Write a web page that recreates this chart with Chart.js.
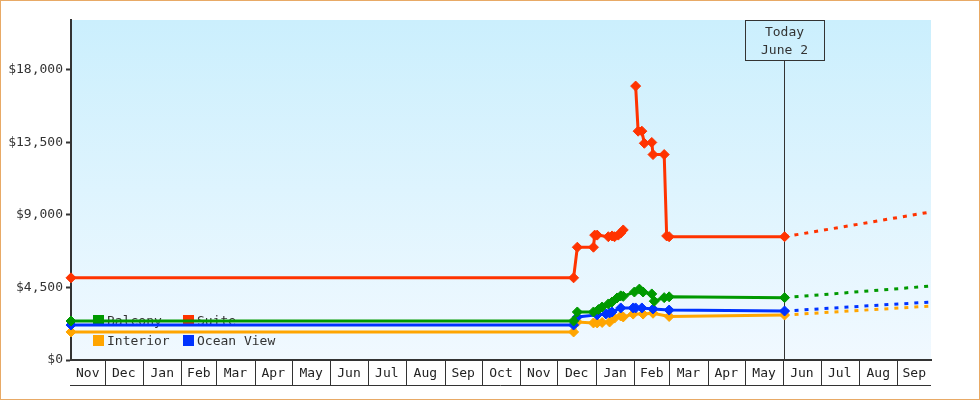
<!DOCTYPE html>
<html>
<head>
<meta charset="utf-8">
<script src="https://cdn.jsdelivr.net/npm/chart.js@4/dist/chart.umd.min.js"></script>
<style>
  html, body { margin: 0; padding: 0; background: #fff; }
  canvas { display: block; }
</style>
</head>
<body>
<canvas id="priceChart" width="980" height="400"></canvas>
<script>
// Price history per cabin type (x = days since Nov 1 of first year)
const monthStarts = [0, 30, 61, 92, 120, 151, 181, 212, 242, 273, 304, 334, 365, 395, 426, 457, 485, 516, 546, 577, 607, 638, 669, 699];
const monthNames = ['Nov', 'Dec', 'Jan', 'Feb', 'Mar', 'Apr', 'May', 'Jun', 'Jul', 'Aug', 'Sep', 'Oct',
                    'Nov', 'Dec', 'Jan', 'Feb', 'Mar', 'Apr', 'May', 'Jun', 'Jul', 'Aug', 'Sep'];
const yTicks = [0, 4500, 9000, 13500, 18000];
const xMin = 3, xMax = 696, yMax = 21100;
const todayDay = 578;
const todayText = ['Today', 'June 2'];

const suiteDays   = [3, 408, 411, 424, 425, 427, 436, 439, 441, 444, 446, 448, 452, 458, 460, 463, 465, 471, 472, 481, 483, 485, 578];
const suitePrices = [5100, 5100, 7000, 7000, 7750, 7750, 7650, 7700, 7650, 7750, 7880, 8070, null, 17000, 14200, 14200, 13450, 13500, 12750, 12750, 7700, 7650, 7650];

const balconyDays   = [3, 408, 411, 424, 428, 431, 436, 439, 443, 446, 448, 457, 461, 464, 471, 473, 481, 485, 578];
const balconyPrices = [2420, 2420, 2980, 2980, 3130, 3290, 3480, 3600, 3850, 3980, 3950, 4220, 4400, 4220, 4100, 3650, 3870, 3920, 3870];

const oceanDays   = [3, 408, 411, 427, 434, 437, 439, 446, 456, 458, 463, 472, 485, 578];
const oceanPrices = [2170, 2170, 2670, 2800, 2860, 2920, 2980, 3230, 3230, 3230, 3230, 3170, 3100, 3040];

const interiorDays   = [3, 408, 411, 424, 427, 431, 437, 441, 446, 448, 456, 464, 472, 485, 578];
const interiorPrices = [1740, 1740, 2360, 2300, 2300, 2330, 2360, 2600, 2730, 2670, 2850, 2850, 2900, 2700, 2790];

// Projection after today (dashed)
const projDays        = [578, 696];
const suiteProj       = [7650, 9190];
const balconyProj     = [3870, 4590];
const oceanProj       = [3040, 3600];
const interiorProj    = [2790, 3350];

const FONT = '"DejaVu Sans Mono", "Liberation Mono", monospace';
const INK = '#333';

function toPoints(days, values) {
    return days.map((d, i) => ({ x: d, y: values[i] }));
}

function series(label, days, values, color) {
    return {
        label: label,
        data: toPoints(days, values),
        borderColor: color,
        backgroundColor: color,
        borderWidth: 3,
        pointStyle: 'rectRot',
        pointRadius: 5,
        pointHoverRadius: 5,
        pointBorderWidth: 1,
        pointBorderColor: color,
        tension: 0,
        clip: false,
        spanGaps: false
    };
}

function projection(days, values, color) {
    return {
        label: '',
        data: toPoints(days, values),
        borderColor: color,
        borderWidth: 3,
        borderDash: [4, 6],
        pointRadius: 0,
        tension: 0
    };
}

const COLORS = { suite: '#ff3300', balcony: '#009900', ocean: '#0033ff', interior: '#ffa500' };

// background gradient, month boxes, today marker, legend, outer frame
const decorPlugin = {
    id: 'decor',
    beforeDraw(chart) {
        const { ctx, chartArea: a } = chart;
        const g = ctx.createLinearGradient(0, a.top, 0, a.bottom);
        g.addColorStop(0, '#cbeffd');
        g.addColorStop(1, '#f1f9ff');
        ctx.save();
        ctx.fillStyle = g;
        ctx.fillRect(a.left, a.top, a.right - a.left, a.bottom - a.top);
        ctx.restore();
    },
    beforeDatasetsDraw(chart) {
        const { ctx, chartArea: a, scales: { x } } = chart;
        ctx.save();

        // month separators below the axis
        ctx.strokeStyle = INK;
        ctx.lineWidth = 1;
        ctx.beginPath();
        monthStarts.forEach(d => {
            if (d <= xMin || d >= xMax) return;
            const px = Math.round(x.getPixelForValue(d)) + 0.5;
            ctx.moveTo(px, a.bottom);
            ctx.lineTo(px, a.bottom + 25);
        });
        ctx.moveTo(a.left - 1, a.bottom + 25.5);
        ctx.lineTo(a.right, a.bottom + 25.5);
        ctx.stroke();

        // today marker
        const tx = Math.round(x.getPixelForValue(todayDay)) - 0.5;
        const boxW = 79, boxH = 40;
        const bx = Math.round(tx - boxW / 2);
        ctx.beginPath();
        ctx.moveTo(tx, a.top + boxH);
        ctx.lineTo(tx, a.bottom);
        ctx.stroke();
        ctx.strokeRect(bx + 0.5, a.top + 0.5, boxW, boxH);
        ctx.fillStyle = INK;
        ctx.font = '13px ' + FONT;
        ctx.textAlign = 'center';
        ctx.textBaseline = 'middle';
        ctx.fillText(todayText[0], tx, a.top + 13);
        ctx.fillText(todayText[1], tx, a.top + 31);

        // legend (2 x 2), drawn under the lines
        const layout = [
            { idx: 1, col: 0, row: 0 },
            { idx: 0, col: 1, row: 0 },
            { idx: 3, col: 0, row: 1 },
            { idx: 2, col: 1, row: 1 }
        ];
        ctx.textAlign = 'left';
        layout.forEach(it => {
            const ds = chart.data.datasets[it.idx];
            const sx = a.left + 22 + it.col * 90;
            const cy = a.bottom - 39.5 + it.row * 20;
            ctx.fillStyle = ds.borderColor;
            ctx.fillRect(sx, cy - 5.5, 11, 11);
            ctx.fillStyle = INK;
            ctx.fillText(ds.label, sx + 14, cy + 1);
        });
        ctx.restore();
    },
    afterDraw(chart) {
        const { ctx, width, height } = chart;
        ctx.save();
        ctx.strokeStyle = '#e8aa66';
        ctx.lineWidth = 1;
        ctx.strokeRect(0.5, 0.5, width - 1, height - 1);
        ctx.restore();
    }
};

const monthCenters = monthNames.map((m, i) => {
    const s = Math.max(monthStarts[i], xMin);
    const e = Math.min(monthStarts[i + 1], xMax);
    return (s + e) / 2;
});

new Chart(document.getElementById('priceChart'), {
    type: 'line',
    data: {
        datasets: [
            series('Suite', suiteDays, suitePrices, COLORS.suite),
            series('Balcony', balconyDays, balconyPrices, COLORS.balcony),
            series('Ocean View', oceanDays, oceanPrices, COLORS.ocean),
            series('Interior', interiorDays, interiorPrices, COLORS.interior),
            projection(projDays, suiteProj, COLORS.suite),
            projection(projDays, balconyProj, COLORS.balcony),
            projection(projDays, oceanProj, COLORS.ocean),
            projection(projDays, interiorProj, COLORS.interior)
        ]
    },
    options: {
        responsive: false,
        animation: false,
        layout: { padding: { top: 20, right: 49, left: 0, bottom: 0 } },
        plugins: {
            legend: { display: false },
            tooltip: { enabled: false }
        },
        scales: {
            x: {
                type: 'linear',
                min: xMin,
                max: xMax,
                afterBuildTicks: scale => {
                    scale.ticks = monthCenters.map(v => ({ value: v }));
                },
                afterFit: scale => { scale.height = 40; },
                grid: { display: false, drawTicks: false },
                border: { display: true, color: INK, width: 2 },
                ticks: {
                    autoSkip: false,
                    maxRotation: 0,
                    padding: 6,
                    color: '#222',
                    font: { family: FONT, size: 13 },
                    callback: (v, i) => monthNames[i]
                }
            },
            y: {
                min: 0,
                max: yMax,
                afterBuildTicks: scale => {
                    scale.ticks = yTicks.map(v => ({ value: v }));
                },
                afterFit: scale => { scale.width = 71; },
                grid: {
                    drawOnChartArea: false,
                    drawTicks: true,
                    tickLength: 5,
                    tickWidth: 2,
                    tickColor: INK
                },
                border: { display: true, color: INK, width: 2 },
                ticks: {
                    padding: 3,
                    color: INK,
                    font: { family: FONT, size: 13 },
                    callback: v => '$' + Number(v).toLocaleString('en-US')
                }
            }
        }
    },
    plugins: [decorPlugin]
});
</script>
</body>
</html>
